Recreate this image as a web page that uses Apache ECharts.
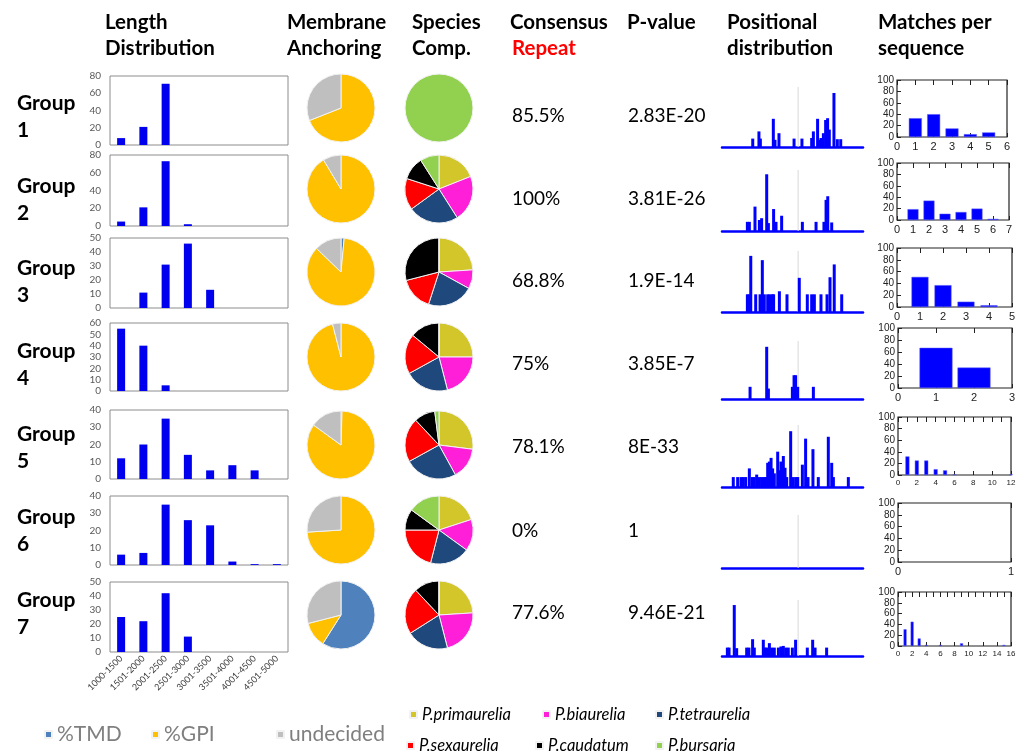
<!DOCTYPE html>
<html><head><meta charset="utf-8">
<script src="https://cdn.jsdelivr.net/npm/echarts@6/dist/echarts.min.js"></script>
<style>html,body{margin:0;padding:0;background:#fff}#c{width:1027px;height:753px}</style>
</head><body><div id="c"></div>
<script>
// ---------- DATA ----------
const groupNames = ['1','2','3','4','5','6','7'];
const lengthCategories = ['1000-1500','1501-2000','2001-2500','2501-3000','3001-3500','3501-4000','4001-4500','4501-5000'];
const lengthCounts = [
  [8,21,71,0,0,0,0,0],
  [5,21,73,2,0,0,0,0],
  [0,11,31,46,13,0,0,0],
  [55,40,5,0,0,0,0,0],
  [12,20,35,14,5,8,5,0],
  [6,7,35,26,23,2,0.5,0.5],
  [25,22,42,11,0,0,0,0]
];
const lengthAxisMax = [80,80,50,60,40,40,50];
const lengthAxisStep = [20,20,10,10,10,10,10];

const anchorNames = ['%TMD','%GPI','undecided'];
const anchorShares = [[0,69,31],[0,91.4,8.6],[1.5,85.7,12.8],[0,96,4],[0.5,84.5,15],[0,74,26],[59,12,29]];

const speciesNames = ['P.primaurelia','P.biaurelia','P.tetraurelia','P.sexaurelia','P.caudatum','P.bursaria'];
const speciesShares = [
  [0,0,0,0,0,100],
  [19,22,24,15,11,9],
  [24,9,22,16,29,0],
  [25,21,21,19,14,0],
  [27,15,25,21,10,2],
  [20,15,19,21,10,15],
  [24,22,20,22,12,0]
];

const consensusRepeat = ['85.5%','100%','68.8%','75%','78.1%','0%','77.6%'];
const pValues = ['2.83E-20','3.81E-26','1.9E-14','3.85E-7','8E-33','1','9.46E-21'];

const positionalCentre = 54;
const posGroup1 = [[21.8,14],[26.2,26],[27.2,14],[36.4,47],[37.6,12],[40.4,23],[51.1,14],[56.7,14],[63.6,15],[64.8,26],[67.8,47],[69,12],[70.2,15],[71.9,23],[73.5,45],[74.9,48],[76.1,29],[79.4,90],[81.8,13],[84.2,13]];
const posGroup2 = [[18,15],[19.4,15],[23.4,40],[26.5,18],[28.1,21],[31.7,93],[32.9,13],[36.6,36],[38.3,15],[42.3,25],[57,15],[66.7,15],[72.3,15],[73.8,51],[75,57],[77.8,14]];
const posGroup3 = [[18,29],[19.2,29],[20.4,92],[23.9,29],[27,29],[28.6,85],[30,29],[32.4,29],[34,29],[35.7,29],[36.6,29],[40.7,34],[46.1,29],[54.8,56],[60.5,29],[63.6,29],[65.5,29],[70.2,29],[74.5,29],[76.6,57],[79.6,78],[84.9,29]];
const posGroup4 = [[19.9,21],[31.7,90],[32.9,18],[49.9,21],[51.1,41],[52.2,41],[53.7,21],[64.8,21]];
const posGroup5 = [[8,16],[11.1,16],[13.5,16],[15.1,16],[16.8,16],[19.4,30],[21.5,16],[22.9,16],[24.6,20],[26.5,16],[28.1,16],[30,16],[31.2,16],[32.4,39],[33.6,41],[34.8,47],[35.9,30],[37.1,22],[39.5,57],[40.7,27],[41.8,41],[43.5,50],[44.7,31],[45.9,16],[48.7,90],[50.6,16],[52.5,16],[53.7,16],[57,36],[59.3,78],[61,16],[64.5,61],[68.3,16],[75.4,81],[77.8,39],[79,16],[89.6,16]];
const posGroup6 = [];
const posGroup7 = [[3.8,15],[5,15],[8.7,91],[10.4,14],[17.5,15],[19.1,15],[21.7,30],[22.9,15],[29.3,29],[30.5,15],[31.7,15],[33.6,23],[35.2,15],[37.1,15],[40,15],[41.8,17],[43.5,18],[45.2,15],[47,15],[49.9,15],[52.2,29],[60.5,15],[64.3,29],[66,15],[74.2,15]];
const positional = [posGroup1,posGroup2,posGroup3,posGroup4,posGroup5,posGroup6,posGroup7];

const matchesGroup1 = [[1,33],[2,40],[3,15],[4,5],[5,8]];
const matchesGroup2 = [[1,19],[2,34],[3,11],[4,14],[5,20],[6,2]];
const matchesGroup3 = [[1,51],[2,37],[3,9],[4,3]];
const matchesGroup4 = [[1,67],[2,34]];
const matchesGroup5 = [[1,32],[2,25],[3,25],[4,10],[5,8],[6,1],[12,1]];
const matchesGroup6 = [];
const matchesGroup7 = [[1,31],[2,45],[3,14],[4,2],[6,2],[9,5],[15,2]];
const matches = [matchesGroup1,matchesGroup2,matchesGroup3,matchesGroup4,matchesGroup5,matchesGroup6,matchesGroup7];
const matchesAxisMax = [6,7,5,3,12,1,16];
const matchesLabelStep = [1,1,1,1,2,1,2];

// ---------- LAYOUT / STYLE ----------
const lenBoxes = [[76,145],[155,226],[238,308],[323,391],[410,479],[496,565],[582,652]];
const posBoxes = [[87,147],[170,231],[251,312],[341,399],[425,487],[515,568],[600,656]];
const matBoxes = [[80,137,897,1007],[163,220,897,1009],[248,307,897,1012],[328,388,898,1012],[417,475,898,1011],[503,562,898,1011],[592,646,898,1011]];
const matBarW = [13,11,17,33,4,3,3];
const matLabelSize = [11,11,11,11,8,11,8];
const pieY = [108,189,272,357,445,530,615];
const groupY = [103,186,268,351,434,517,600];
const valueY = [116,199,281,364,447,531,613];
const anchorColors = ['#4f81bd','#ffc000','#bfbfbf'];
const speciesColors = ['#d2c62a','#ff1fd8','#1f497d','#ff0000','#000000','#92d050'];
const FONT = 'Lato, "Open Sans", "Liberation Sans", sans-serif';

const grids=[], xAxes=[], yAxes=[], series=[], graphics=[], legends=[];

for (let i=0;i<7;i++){
  // Length distribution
  let g = grids.length;
  grids.push({left:110, top:lenBoxes[i][0], width:178, height:lenBoxes[i][1]-lenBoxes[i][0], show:true, borderColor:'#8c8c8c', borderWidth:1});
  xAxes.push({gridIndex:g, type:'category', data:lengthCategories, axisLine:{show:false}, axisTick:{show:false},
    axisLabel:{show:i===6, rotate:45, fontSize:9, color:'#404040', interval:0, margin:5, fontFamily:FONT}});
  yAxes.push({gridIndex:g, type:'value', min:0, max:lengthAxisMax[i], interval:lengthAxisStep[i], splitLine:{show:false},
    axisLine:{show:false}, axisTick:{show:false}, axisLabel:{fontSize:10, color:'#595959', margin:9, fontFamily:FONT}});
  series.push({type:'bar', xAxisIndex:xAxes.length-1, yAxisIndex:yAxes.length-1, data:lengthCounts[i], barWidth:8, silent:true,
    itemStyle:{color:'#0000ee', borderWidth:0}});

  // Positional distribution
  g = grids.length;
  grids.push({left:722, top:posBoxes[i][0], width:141, height:posBoxes[i][1]-posBoxes[i][0]});
  xAxes.push({gridIndex:g, type:'value', min:0, max:100, axisLine:{show:true, onZero:false, lineStyle:{color:'#0000ff', width:2.5}},
    axisTick:{show:false}, axisLabel:{show:false}, splitLine:{show:false}});
  yAxes.push({gridIndex:g, type:'value', min:0, max:100, show:false});
  series.push({type:'line', xAxisIndex:xAxes.length-1, yAxisIndex:yAxes.length-1, data:[[positionalCentre,0],[positionalCentre,100]],
    symbol:'none', silent:true, lineStyle:{color:'#d9d9d9', width:1}, z:1});
  series.push({type:'bar', xAxisIndex:xAxes.length-1, yAxisIndex:yAxes.length-1, data:positional[i], barWidth:3, silent:true,
    itemStyle:{color:'#0000ff'}, z:2});

  // Matches per sequence
  g = grids.length;
  const mb = matBoxes[i];
  grids.push({left:mb[2], top:mb[0], width:mb[3]-mb[2], height:mb[1]-mb[0], show:true, borderColor:'#222', borderWidth:1.2});
  xAxes.push({gridIndex:g, type:'value', min:0, max:matchesAxisMax[i], interval:matchesLabelStep[i], axisLine:{show:false},
    axisTick:{show:true, inside:true, length:4, lineStyle:{color:'#222'}}, splitLine:{show:false},
    axisLabel:{fontSize:matLabelSize[i], color:'#222', margin:4, fontFamily:'"Liberation Sans", Arial, sans-serif'}});
  const bottomX = xAxes.length-1;
  xAxes.push({gridIndex:g, type:'value', position:'top', min:0, max:matchesAxisMax[i], interval:1, axisLine:{show:false},
    axisTick:{show:true, inside:true, length:5, lineStyle:{color:'#222'}}, axisLabel:{show:false}, splitLine:{show:false}});
  yAxes.push({gridIndex:g, type:'value', min:0, max:100, interval:20, axisLine:{show:false}, splitLine:{show:false},
    axisTick:{show:true, inside:true, length:4, lineStyle:{color:'#222'}},
    axisLabel:{fontSize:10, color:'#222', margin:3, fontFamily:'"Liberation Sans", Arial, sans-serif'}});
  series.push({type:'bar', xAxisIndex:bottomX, yAxisIndex:yAxes.length-1, data:matches[i], barWidth:matBarW[i], silent:true,
    itemStyle:{color:'#0000ff', borderColor:'#5c5cff', borderWidth:0.5}});

  // Pies
  series.push({type:'pie', center:[341,pieY[i]], radius:34, silent:true, label:{show:false}, labelLine:{show:false},
    color:anchorColors, itemStyle:{borderColor:'#f2f2f2', borderWidth:1}, emphasis:{disabled:true},
    data:anchorNames.map((n,k)=>({name:n, value:anchorShares[i][k]}))});
  series.push({type:'pie', center:[439,pieY[i]], radius:34, silent:true, label:{show:false}, labelLine:{show:false},
    color:speciesColors, itemStyle:{borderColor:'#f2f2f2', borderWidth:1}, emphasis:{disabled:true},
    data:speciesNames.map((n,k)=>({name:n, value:speciesShares[i][k]}))});

  // Texts
  graphics.push({type:'text', x:17, y:groupY[i], style:{text:'Group', fontSize:21, fontWeight:'bold', fontFamily:FONT, fill:'#000', verticalAlign:'middle'}});
  graphics.push({type:'text', x:17, y:groupY[i]+27, style:{text:groupNames[i], fontSize:21, fontWeight:'bold', fontFamily:FONT, fill:'#000', verticalAlign:'middle'}});
  graphics.push({type:'text', x:512, y:valueY[i], style:{text:consensusRepeat[i], fontSize:19, fontFamily:FONT, fill:'#000', verticalAlign:'middle'}});
  graphics.push({type:'text', x:628, y:valueY[i], style:{text:pValues[i], fontSize:19, fontFamily:FONT, fill:'#000', verticalAlign:'middle'}});
}

const headers = [
  ['Length',105,22,'#000'],['Distribution',105,48,'#000'],
  ['Membrane',287,22,'#000'],['Anchoring',287,48,'#000'],
  ['Species',412,22,'#000'],['Comp.',412,48,'#000'],
  ['Consensus',510,22,'#000'],['Repeat',512,48,'#ff0000'],
  ['P-value',627,22,'#000'],
  ['Positional',727,22,'#000'],['distribution',727,48,'#000'],
  ['Matches per',878,22,'#000'],['sequence',878,48,'#000']
];
headers.forEach(h=>graphics.push({type:'text', x:h[1], y:h[2], style:{text:h[0], fontSize:20.5, fontWeight:'bold', fontFamily:FONT, fill:h[3], verticalAlign:'middle'}}));

// Legends
const anchorLegendLeft = [44,151,276];
anchorNames.forEach((n,k)=>legends.push({data:[n], left:anchorLegendLeft[k], top:724, padding:0, icon:'rect', itemWidth:7, itemHeight:7,
  selectedMode:false, textStyle:{fontSize:21, color:'#7f7f7f', fontFamily:FONT}}));
const speciesLegendPos = [[409,706],[542,706],[655,706],[406,737],[535,737],[655,737]];
speciesNames.forEach((n,k)=>legends.push({data:[n], left:speciesLegendPos[k][0], top:speciesLegendPos[k][1], padding:0, icon:'rect', itemWidth:7, itemHeight:7,
  selectedMode:false, textStyle:{fontSize:16.5, fontStyle:'italic', color:'#000', fontFamily:FONT}}));

const chart = echarts.init(document.getElementById('c'));
chart.setOption({
  animation:false,
  backgroundColor:'#fff',
  grid:grids, xAxis:xAxes, yAxis:yAxes, series:series, legend:legends, graphic:graphics
});
</script></body></html>
